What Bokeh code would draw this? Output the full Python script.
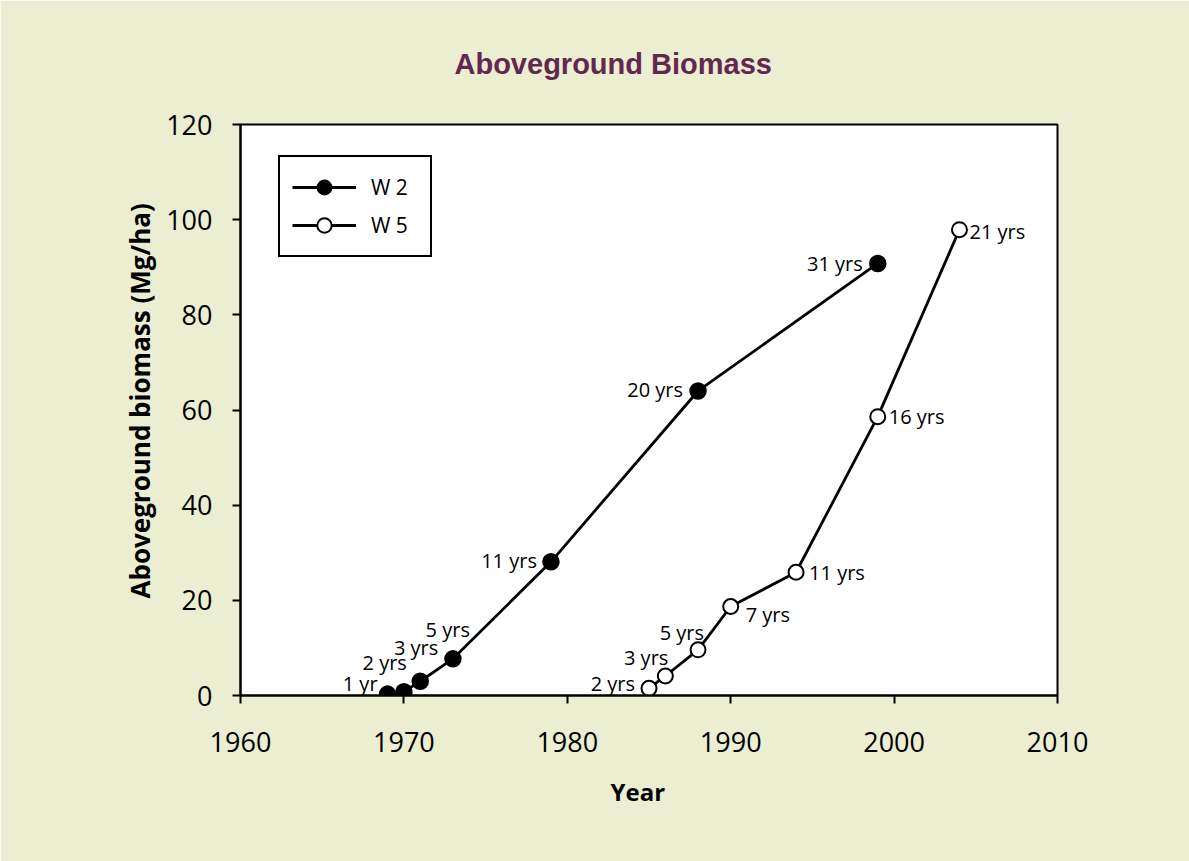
import math
from bokeh.plotting import figure
from bokeh.models import (ColumnDataSource, Legend, LegendItem, FixedTicker, Range1d, Title)
from bokeh.core.properties import value, field
from bokeh.embed import file_html
from bokeh.resources import INLINE

# ---- data ----
w2_year = [1969, 1970, 1971, 1973, 1979, 1988, 1999]
w2_biomass = [0.3, 0.8, 3.0, 7.7, 28.1, 64.0, 90.8]
w2_age = ["1 yr", "2 yrs", "3 yrs", "5 yrs", "11 yrs", "20 yrs", "31 yrs"]

w5_year = [1985, 1986, 1988, 1990, 1994, 1999, 2004]
w5_biomass = [1.5, 4.1, 9.6, 18.7, 25.9, 58.6, 97.9]
w5_age = ["2 yrs", "3 yrs", "5 yrs", "7 yrs", "11 yrs", "16 yrs", "21 yrs"]

x_ticks = [1960, 1970, 1980, 1990, 2000, 2010]
y_ticks = [0, 20, 40, 60, 80, 100, 120]

title_text = "Aboveground Biomass"
x_title = "Year"
y_title = "Aboveground biomass (Mg/ha)"
series_names = ["W 2", "W 5"]

# ---- label placement (screen px offsets, styling only) ----
w2_dx = [-10, 3, 18, 17, -14, -15, -15]
w2_dy = [-11, -29, -34, -29, -1, -1, 0]
w2_align = ["right"] * 7
w5_dx = [-14, 3, 6, 15, 13, 11, 10]
w5_dy = [-5, -18, -17, 8, 0, 0, 2]
w5_align = ["right", "right", "right", "left", "left", "left", "left"]

BG = "#ebeed1"
FONT = "Open Sans"

p = figure(width=1189, height=861, output_backend="svg", toolbar_location=None,
           x_range=Range1d(1960, 2010), y_range=Range1d(0, 120),
           min_border_left=240, min_border_right=132, min_border_top=124, min_border_bottom=166)
p.background_fill_color = "white"
p.border_fill_color = BG
p.outline_line_color = "black"
p.outline_line_width = 2
p.grid.visible = False

# title
p.title.text = title_text
p.title.align = "left"
p.title.offset = 214
p.title.standoff = 90
p.title.text_font = "Liberation Sans"
p.title.text_font_style = "bold"
p.title.text_font_size = "29px"
p.title.text_color = "#62294f"

for ax in (p.xaxis[0], p.yaxis[0]):
    ax.axis_line_width = 2
    ax.major_tick_line_width = 2
    ax.major_tick_out = 8
    ax.major_tick_in = 0
    ax.minor_tick_line_color = None
    ax.major_label_text_font = FONT
    ax.major_label_text_font_size = "27px"
    ax.major_label_text_color = "black"
p.xaxis[0].ticker = FixedTicker(ticks=x_ticks)
p.yaxis[0].ticker = FixedTicker(ticks=y_ticks)
p.xaxis[0].major_label_standoff = 28
p.yaxis[0].major_label_standoff = 20

xtitle = Title(text=x_title, align="left", offset=370, standoff=36,
               text_font=FONT, text_font_style="bold", text_font_size="24px",
               text_color="black")
p.add_layout(xtitle, "below")

ytitle = Title(text=y_title, align="left", offset=97, standoff=12,
               text_font=FONT, text_font_style="bold", text_font_size="26px",
               text_color="black")
p.add_layout(ytitle, "left")

src2 = ColumnDataSource(dict(x=w2_year, y=w2_biomass, t=w2_age, dx=w2_dx, dy=w2_dy, al=w2_align))
src5 = ColumnDataSource(dict(x=w5_year, y=w5_biomass, t=w5_age, dx=w5_dx, dy=w5_dy, al=w5_align))

l2 = p.line("x", "y", source=src2, line_color="black", line_width=2.8)
s2 = p.scatter("x", "y", source=src2, size=16, fill_color="black", line_color="black", line_width=1.5)
l5 = p.line("x", "y", source=src5, line_color="black", line_width=2.8)
s5 = p.scatter("x", "y", source=src5, size=15, fill_color="white", line_color="black", line_width=2)

for src in (src2, src5):
    p.text("x", "y", text="t", source=src, x_offset="dx", y_offset="dy",
           text_align=field("al"), text_baseline="middle",
           text_font=value(FONT), text_font_size="20px", text_color="black")

legend = Legend(items=[LegendItem(label=series_names[0], renderers=[l2, s2]),
                       LegendItem(label=series_names[1], renderers=[l5, s5])],
                location=(38, 438), margin=0, padding=12, spacing=2,
                glyph_width=64, glyph_height=36, label_height=36, label_width=47,
                label_standoff=15,
                label_text_font=FONT, label_text_font_size="21px", label_text_color="black",
                border_line_color="black", border_line_width=2, border_line_alpha=1,
                background_fill_color="white", background_fill_alpha=1)
p.add_layout(legend, "center")

open("out.html", "w").write(file_html(p, INLINE))
